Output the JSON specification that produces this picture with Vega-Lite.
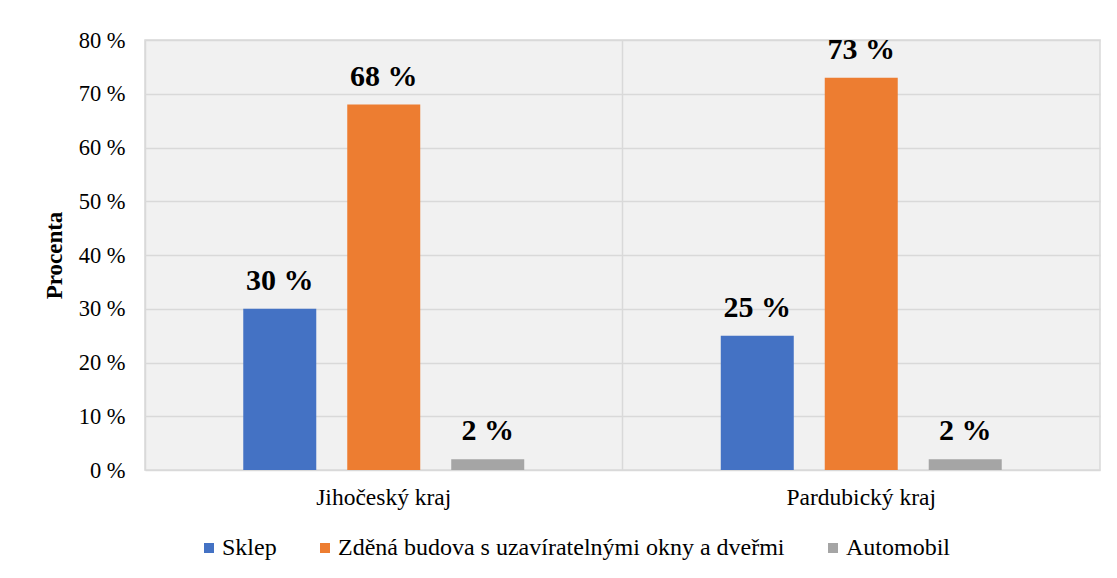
{
  "$schema": "https://vega.github.io/schema/vega-lite/v6.json",
  "autosize": "none",
  "width": 955,
  "height": 430,
  "padding": {"left": 145, "top": 40, "right": 17, "bottom": 108},
  "background": "white",
  "config": {
    "font": "Liberation Serif",
    "text": {"font": "Liberation Serif"},
    "axis": {"labelFont": "Liberation Serif", "titleFont": "Liberation Serif"},
    "legend": {"labelFont": "Liberation Serif", "titleFont": "Liberation Serif"},
    "view": {"fill": "#f1f1f1", "stroke": "#d9d9d9", "strokeWidth": 1.5}
  },
  "data": {
    "values": [
      {"kraj": "Jihočeský kraj", "typ": "Sklep", "hodnota": 30, "label": "30 %"},
      {"kraj": "Jihočeský kraj", "typ": "Zděná budova s uzavíratelnými okny a dveřmi", "hodnota": 68, "label": "68 %"},
      {"kraj": "Jihočeský kraj", "typ": "Automobil", "hodnota": 2, "label": "2 %"},
      {"kraj": "Pardubický kraj", "typ": "Sklep", "hodnota": 25, "label": "25 %"},
      {"kraj": "Pardubický kraj", "typ": "Zděná budova s uzavíratelnými okny a dveřmi", "hodnota": 73, "label": "73 %"},
      {"kraj": "Pardubický kraj", "typ": "Automobil", "hodnota": 2, "label": "2 %"}
    ]
  },
  "encoding": {
    "y": {
      "field": "hodnota", "type": "quantitative",
      "scale": {"domain": [0, 80]},
      "axis": {
        "values": [0, 10, 20, 30, 40, 50, 60, 70, 80],
        "labelExpr": "datum.value + ' %'",
        "title": "Procenta", "titleFontSize": 23, "titleFontWeight": "bold", "titleColor": "black",
        "titlePadding": 12,
        "labelFontSize": 22.5, "labelColor": "black", "labelPadding": 20,
        "ticks": false, "domain": false,
        "grid": true, "gridColor": "#d9d9d9", "gridWidth": 1.5
      }
    }
  },
  "layer": [
    {
      "mark": {"type": "bar"},
      "encoding": {
        "x": {
          "field": "kraj", "type": "nominal",
          "scale": {"paddingInner": 0, "paddingOuter": 0},
          "axis": {
            "title": null, "labelAngle": 0, "labelFontSize": 23.5, "labelColor": "black",
            "labelPadding": 15, "ticks": false, "domain": false, "grid": false
          }
        },
        "xOffset": {
          "field": "typ", "type": "nominal",
          "sort": ["Sklep", "Zděná budova s uzavíratelnými okny a dveřmi", "Automobil"],
          "scale": {"paddingInner": 0.298, "paddingOuter": 0.945}
        },
        "color": {
          "field": "typ", "type": "nominal",
          "sort": ["Sklep", "Zděná budova s uzavíratelnými okny a dveřmi", "Automobil"],
          "scale": {
            "domain": ["Sklep", "Zděná budova s uzavíratelnými okny a dveřmi", "Automobil"],
            "range": ["#4472C4", "#ED7D31", "#A5A5A5"]
          },
          "legend": {
            "title": null, "orient": "none", "direction": "horizontal",
            "legendX": 52, "legendY": 496,
            "labelFontSize": 24, "labelColor": "black", "labelLimit": 700,
            "symbolType": "square", "symbolSize": 100, "symbolStrokeWidth": 0,
            "labelOffset": 1, "columnPadding": 36
          }
        }
      }
    },
    {
      "mark": {"type": "text", "baseline": "alphabetic", "dy": -19, "fontSize": 30, "fontWeight": "bold", "color": "black", "font": "Liberation Serif"},
      "encoding": {
        "x": {
          "field": "kraj", "type": "nominal",
          "axis": {
            "title": null, "labels": false, "ticks": false, "domain": false,
            "grid": true, "bandPosition": 0, "gridColor": "#d9d9d9", "gridWidth": 1.5
          }
        },
        "xOffset": {
          "field": "typ", "type": "nominal",
          "sort": ["Sklep", "Zděná budova s uzavíratelnými okny a dveřmi", "Automobil"]
        },
        "text": {"field": "label"}
      }
    }
  ],
  "resolve": {"axis": {"x": "independent"}}
}
